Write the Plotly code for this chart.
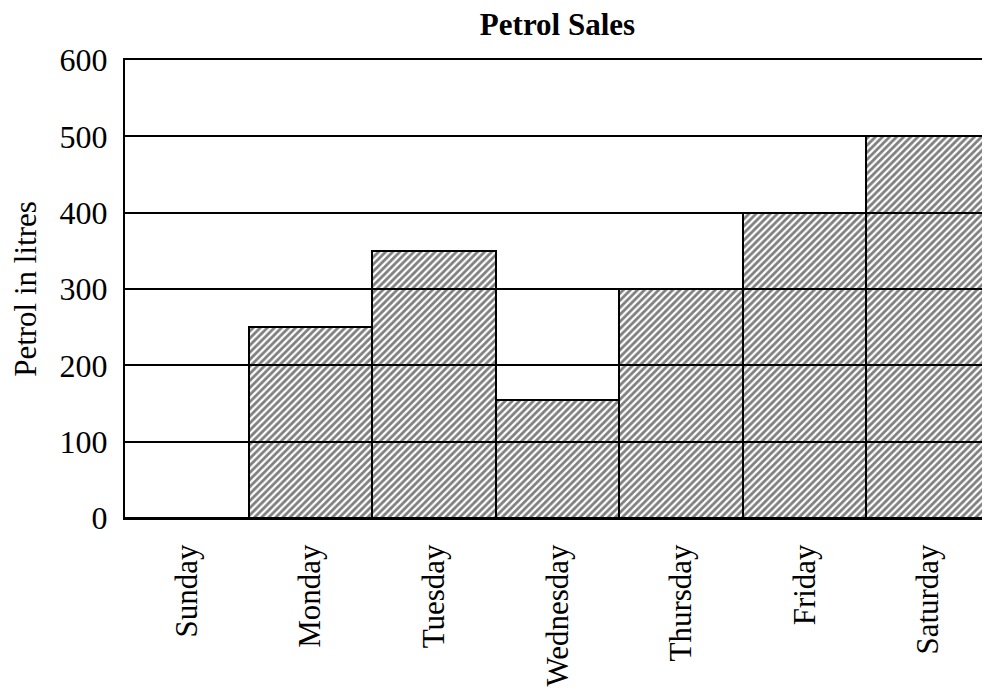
import plotly.graph_objects as go

days = ["Sunday", "Monday", "Tuesday", "Wednesday", "Thursday", "Friday", "Saturday"]
litres = [0, 250, 350, 155, 300, 400, 500]
y_ticks = [0, 100, 200, 300, 400, 500, 600]

FONT = "Liberation Serif, Times New Roman, serif"

fig = go.Figure(
    go.Bar(
        x=days,
        y=litres,
        marker=dict(
            color="rgba(0,0,0,0)",
            line=dict(color="black", width=2),
            pattern=dict(shape="/", fgcolor="black", bgcolor="rgba(0,0,0,0)",
                         size=5, solidity=0.55, fillmode="overlay"),
        ),
        showlegend=False,
    )
)

fig.update_layout(
    width=982,
    height=692,
    margin=dict(l=117, r=0, t=52, b=182),
    paper_bgcolor="white",
    plot_bgcolor="white",
    bargap=0,
    font=dict(family=FONT, color="black", size=31),
    title=dict(text="<b>Petrol Sales</b>", x=0.5, xref="paper", xanchor="center",
               y=0.977, yref="container", yanchor="middle",
               font=dict(family=FONT, size=31, color="black")),
)

fig.update_xaxes(
    showline=True, linecolor="black", linewidth=2, mirror=True,
    showgrid=False, tickangle=-90, ticks="", ticklabelstandoff=12,
    tickfont=dict(family=FONT, size=31, color="black"),
)
fig.update_yaxes(
    range=[0, 600], tickvals=y_ticks, ticktext=[str(v) for v in y_ticks],
    showline=True, linecolor="black", linewidth=2,
    showgrid=True, gridcolor="black", gridwidth=2,
    zeroline=False, ticks="", ticklabelstandoff=9,
    tickfont=dict(family=FONT, size=32, color="black"),
    title=dict(text="Petrol in litres", standoff=16,
               font=dict(family=FONT, size=31, color="black")),
)

fig.write_html("out.html")
